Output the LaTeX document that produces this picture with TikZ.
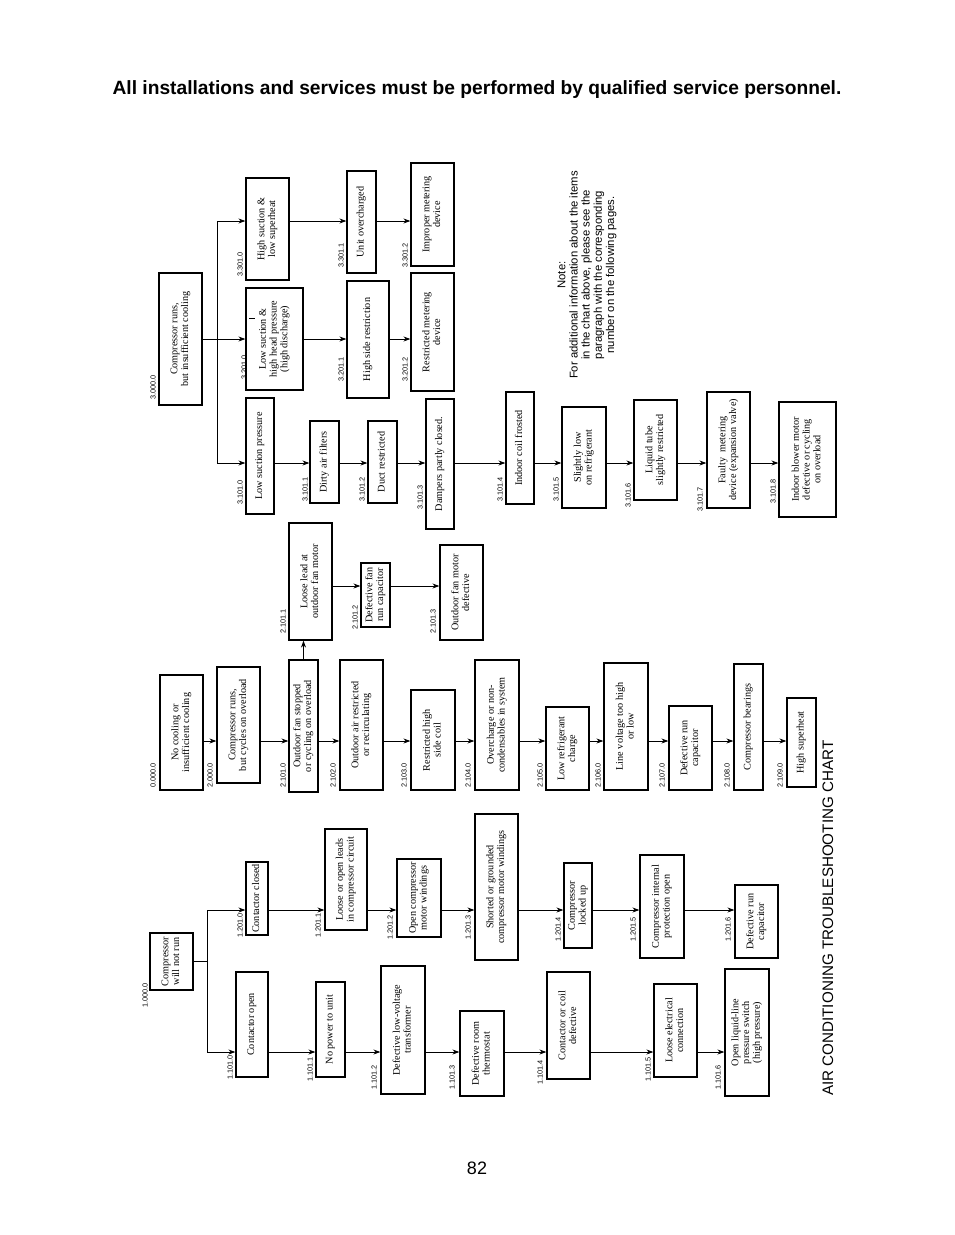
\documentclass[tikz,border=0pt]{standalone}
\usepackage{fontspec}
\setmainfont{Liberation Serif}
\newfontfamily\hsans{Liberation Sans}
\usetikzlibrary{arrows.meta,calc}
\newcommand\bx[6]{\node[draw,line width=1.2pt,inner sep=0pt,minimum width={(#4-#2)*1pt},minimum height={(#5-#3)*1pt}] (#1) at ({(#2+#4)/2},{(#3+#5)/2}) {\rotatebox{90}{\begin{tabular}{@{}c@{}}#6\end{tabular}}};}
\newcommand\lb[4]{\node[rotate=90,anchor=west,inner sep=0pt,font=\hsans\fontsize{7.3}{8}\selectfont] (#1) at (#2,#3) {#4};}
\begin{document}
\begin{tikzpicture}[x=1pt,y=-1pt,font=\fontsize{10.2}{10.8}\selectfont,
  arr/.style={-{Stealth[length=7pt,width=5pt]},line width=0.9pt}]
\useasboundingbox (0,0) rectangle (954,1235);
\node[font=\hsans\bfseries\fontsize{19.2}{22}\selectfont] (hdr) at (477,90) {All installations and services must be performed by qualified service personnel.};
\node[font=\hsans\fontsize{18}{20}\selectfont] (pg) at (477,1168) {82};
\node[rotate=90,anchor=west,font=\hsans\fontsize{15.2}{17}\selectfont,inner sep=0pt] (ttl) at (828,1096) {AIR CONDITIONING TROUBLESHOOTING CHART};
\node[rotate=90,font=\hsans\fontsize{11.3}{12.2}\selectfont,align=center] (note) at (587,275) {Note:\\For additional information about the items\\in the chart above, please see the\\paragraph with the corresponding\\number on the following pages.};
% ---- 3 series
\bx{c3}{159}{273}{202}{405}{Compressor runs,\\but insufficient cooling}\lb{l3}{153}{400}{3.000.0}
\bx{a30}{246}{178}{289}{280}{High suction \&\\low superheat}\lb{l330}{240}{277}{3.301.0}
\bx{a20}{246}{288}{303}{390}{Low suction \&\\high head pressure\\(high discharge)}\lb{l320}{244}{380}{3.201.0}
\draw[line width=0.8pt] (249,318) -- (255,318);
\bx{a10}{246}{398}{274}{514}{Low suction pressure}\lb{l310}{240}{505}{3.101.0}
\coordinate (tr3a) at (217,221);\coordinate (tr3b) at (217,463);
\draw[line width=0.9pt] (c3.east) -- (c3.east -| tr3a);
\draw[line width=0.9pt] (tr3a) -- (tr3b);
\draw[arr] (tr3a) -- (tr3a -| a30.west);
\draw[arr] (c3.east -| tr3a) -- (a20.west |- c3.east);
\draw[arr] (tr3b) -- (tr3b -| a10.west);
\bx{a31}{347}{171}{376}{273}{Unit overcharged}\lb{l331}{341}{268}{3.301.1}
\bx{a32}{411}{163}{454}{266}{Improper metering\\device}\lb{l332}{405}{268}{3.301.2}
\draw[arr] (a30.east |- tr3a) -- (a31.west |- tr3a);
\draw[arr] (a31.east |- tr3a) -- (a32.west |- tr3a);
\bx{a21}{347}{281}{389}{398}{High side restriction}\lb{l321}{341}{382}{3.201.1}
\bx{a22}{411}{273}{454}{391}{Restricted metering\\device}\lb{l322}{405}{382}{3.201.2}
\draw[arr] (a20.east |- c3.east) -- (a21.west |- c3.east);
\draw[arr] (a21.east |- c3.east) -- (a22.west |- c3.east);
\bx{a11}{310}{421}{339}{503}{Dirty air filters}\lb{l311}{305}{502}{3.101.1}
\bx{a12}{368}{421}{397}{503}{Duct restricted}\lb{l312}{362}{502}{3.101.2}
\bx{a13}{426}{399}{454}{529}{Dampers partly closed.}\lb{l313}{420}{510}{3.101.3}
\bx{a14}{506}{392}{534}{504}{Indoor coil frosted}\lb{l314}{500}{502}{3.101.4}
\bx{a15}{562}{407}{606}{508}{Slightly low\\on refrigerant}\lb{l315}{556}{502}{3.101.5}
\bx{a16}{634}{400}{677}{500}{Liquid tube\\slightly restricted}\lb{l316}{628}{508}{3.101.6}
\bx{a17}{707}{392}{750}{508}{Faulty\ \ metering\\device (expansion valve)}\lb{l317}{700}{512}{3.101.7}
\bx{a18}{779}{402}{836}{517}{Indoor blower motor\\defective or cycling\\on overload}\lb{l318}{773}{504}{3.101.8}
\foreach \p/\q in {a10/a11,a11/a12,a12/a13,a13/a14,a14/a15,a15/a16,a16/a17,a17/a18}
  \draw[arr] (\p.east |- tr3b) -- (\q.west |- tr3b);
% ---- 2 series
\coordinate (y2) at (0,741);
\bx{b0}{160}{675}{203}{790}{No cooling or\\insufficient cooling}\lb{lb0}{153}{788}{0.000.0}
\bx{b1}{217}{667}{260}{783}{Compressor runs,\\but cycles on overload}\lb{lb1}{210}{788}{2.000.0}
\bx{b2}{289}{660}{318}{792}{Outdoor fan stopped\\or cycling on overload}\lb{lb2}{283}{788}{2.101.0}
\bx{b3}{340}{660}{383}{790}{Outdoor air restricted\\or recirculating}\lb{lb3}{333}{788}{2.102.0}
\bx{b4}{411}{690}{455}{790}{Restricted high\\side coil}\lb{lb4}{404}{788}{2.103.0}
\bx{b5}{475}{660}{519}{790}{Overcharge or non-\\condensables in system}\lb{lb5}{468}{788}{2.104.0}
\bx{b6}{546}{707}{589}{790}{Low refrigerant\\charge}\lb{lb6}{540}{788}{2.105.0}
\bx{b7}{604}{663}{648}{790}{Line voltage too high\\or low}\lb{lb7}{598}{788}{2.106.0}
\bx{b8}{669}{706}{712}{790}{Defective run\\capacitor}\lb{lb8}{662}{788}{2.107.0}
\bx{b9}{734}{664}{763}{790}{Compressor bearings}\lb{lb9}{727}{788}{2.108.0}
\bx{b10}{787}{698}{816}{787}{High superheat}\lb{lb10}{780}{788}{2.109.0}
\foreach \p/\q in {b0/b1,b1/b2,b2/b3,b3/b4,b4/b5,b5/b6,b6/b7,b7/b8,b8/b9,b9/b10}
  \draw[arr] (\p.east |- y2) -- (\q.west |- y2);
\bx{f1}{289}{523}{332}{640}{Loose lead at\\outdoor fan motor}\lb{lf1}{283}{634}{2.101.1}
\bx{f2}{361}{563}{390}{627}{Defective fan\\run capacitor}\lb{lf2}{355}{630}{2.101.2}
\bx{f3}{440}{545}{483}{640}{Outdoor fan motor\\defective}\lb{lf3}{433}{634}{2.101.3}
\draw[arr] (b2.north) -- (b2.north |- f1.south);
\coordinate (yf) at (0,586);
\draw[arr] (f1.east |- yf) -- (f2.west |- yf);
\draw[arr] (f2.east |- yf) -- (f3.west |- yf);
% ---- 1 series
\bx{c1}{150}{933}{193}{990}{Compressor\\will not run}\lb{lc1}{145}{1008}{1.000.0}
\coordinate (t1a) at (207,910);\coordinate (t1b) at (207,1052);
\draw[line width=0.9pt] (c1.east) -- (c1.east -| t1a);
\draw[line width=0.9pt] (t1a) -- (t1b);
\bx{d0}{246}{862}{268}{935}{Contactor closed}\lb{ld0}{240}{938}{1.201.0}
\bx{e0}{236}{972}{268}{1077}{Contactor open}\lb{le0}{230}{1080}{1.101.0}
\draw[arr] (t1a) -- (t1a -| d0.west);
\draw[arr] (t1b) -- (t1b -| e0.west);
\bx{d1}{325}{829}{367}{930}{Loose or open leads\\in compressor circuit}\lb{ld1}{318}{938}{1.201.1}
\bx{d2}{397}{859}{441}{937}{Open compressor\\motor windings}\lb{ld2}{390}{940}{1.201.2}
\bx{d3}{475}{814}{518}{960}{Shorted or grounded\\compressor motor windings}\lb{ld3}{468}{940}{1.201.3}
\bx{d4}{564}{863}{592}{948}{Compressor\\locked up}\lb{ld4}{558}{942}{1.201.4}
\bx{d5}{640}{855}{684}{958}{Compressor internal\\protection open}\lb{ld5}{633}{942}{1.201.5}
\bx{d6}{735}{885}{778}{958}{Defective run\\capacitor}\lb{ld6}{728}{942}{1.201.6}
\foreach \p/\q in {d0/d1,d1/d2,d2/d3,d3/d4,d4/d5,d5/d6}
  \draw[arr] (\p.east |- t1a) -- (\q.west |- t1a);
\bx{e1}{316}{982}{345}{1077}{No power to unit}\lb{le1}{310}{1082}{1.101.1}
\bx{e2}{381}{966}{425}{1094}{Defective low-voltage\\transformer}\lb{le2}{374}{1090}{1.101.2}
\bx{e3}{460}{1011}{504}{1096}{Defective room\\thermostat}\lb{le3}{452}{1090}{1.101.3}
\bx{e4}{547}{972}{590}{1079}{Contactor or coil\\defective}\lb{le4}{540}{1085}{1.101.4}
\bx{e5}{654}{984}{697}{1077}{Loose electrical\\connection}\lb{le5}{648}{1082}{1.101.5}
\bx{e6}{725}{969}{769}{1096}{Open liquid-line\\pressure switch\\(high pressure)}\lb{le6}{718}{1090}{1.101.6}
\foreach \p/\q in {e0/e1,e1/e2,e2/e3,e3/e4,e4/e5,e5/e6}
  \draw[arr] (\p.east |- t1b) -- (\q.west |- t1b);
\end{tikzpicture}
\end{document}
